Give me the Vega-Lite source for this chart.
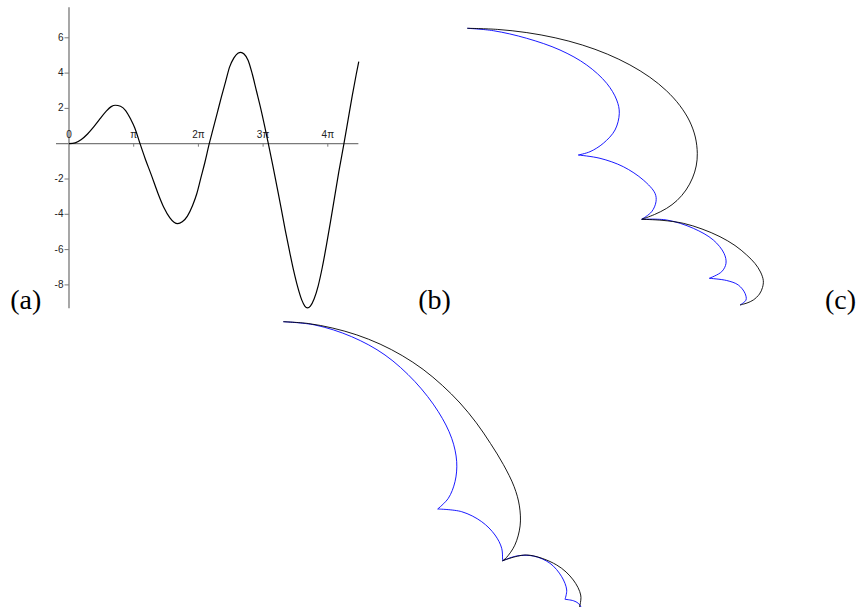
{
  "$schema": "https://vega.github.io/schema/vega-lite/v6.json",
  "width": 860,
  "height": 607,
  "padding": 0,
  "autosize": {"type": "none"},
  "background": "white",
  "config": {"view": {"stroke": null}},
  "datasets": {
    "fA": [
      {"t":0,"v":0},{"t":0.3,"v":0.05},{"t":0.6,"v":0.24},{"t":0.9,"v":0.55},{"t":1.2,"v":0.95},{"t":1.5,"v":1.4},{"t":1.8,"v":1.83},{"t":2.05,"v":2.1},{"t":2.25,"v":2.18},{"t":2.5,"v":2.12},{"t":2.75,"v":1.88},{"t":3.0,"v":1.38},{"t":3.2,"v":0.88},{"t":3.45,"v":0},
      {"t":3.7,"v":-0.85},{"t":4.0,"v":-1.78},{"t":4.3,"v":-2.75},{"t":4.6,"v":-3.6},{"t":4.9,"v":-4.2},{"t":5.1,"v":-4.45},{"t":5.28,"v":-4.53},{"t":5.5,"v":-4.42},{"t":5.75,"v":-4.1},{"t":6.0,"v":-3.5},{"t":6.2,"v":-2.85},{"t":6.4,"v":-1.95},{"t":6.6,"v":-1.05},{"t":6.81,"v":0},
      {"t":7.0,"v":0.85},{"t":7.2,"v":1.75},{"t":7.4,"v":2.65},{"t":7.6,"v":3.5},{"t":7.8,"v":4.35},{"t":8.0,"v":4.85},{"t":8.2,"v":5.13},{"t":8.34,"v":5.18},{"t":8.5,"v":5.08},{"t":8.7,"v":4.72},{"t":8.9,"v":3.95},{"t":9.1,"v":3.0},{"t":9.3,"v":2.05},{"t":9.5,"v":1.0},{"t":9.68,"v":0},
      {"t":9.9,"v":-1.25},{"t":10.1,"v":-2.45},{"t":10.3,"v":-3.65},{"t":10.5,"v":-4.9},{"t":10.7,"v":-6.05},{"t":10.9,"v":-7.15},{"t":11.1,"v":-8.1},{"t":11.3,"v":-8.85},{"t":11.45,"v":-9.2},{"t":11.58,"v":-9.3},{"t":11.72,"v":-9.2},{"t":11.9,"v":-8.8},{"t":12.1,"v":-8.05},{"t":12.3,"v":-7.0},{"t":12.5,"v":-5.75},{"t":12.7,"v":-4.4},{"t":12.9,"v":-3.0},{"t":13.1,"v":-1.6},{"t":13.35,"v":0},
      {"t":13.55,"v":1.35},{"t":13.75,"v":2.7},{"t":13.95,"v":3.95},{"t":14.07,"v":4.65}
    ],
    "yticks": [
      {"v":-8,"label":"-8"},{"v":-6,"label":"-6"},{"v":-4,"label":"-4"},{"v":-2,"label":"-2"},{"v":2,"label":"2"},{"v":4,"label":"4"},{"v":6,"label":"6"}
    ],
    "xticks": [
      {"t":0,"label":"0","tick":false},
      {"t":3.14159,"label":"π","tick":true},
      {"t":6.28319,"label":"2π","tick":true},
      {"t":9.42478,"label":"3π","tick":true},
      {"t":12.56637,"label":"4π","tick":true}
    ],
    "shapes": [
      {"seg":"b1","kind":"inner","i":1,"x":0,"y":0},{"seg":"b1","kind":"inner","i":2,"x":0.26,"y":-0.024},{"seg":"b1","kind":"inner","i":3,"x":0.594,"y":-0.1},{"seg":"b1","kind":"inner","i":4,"x":0.927,"y":-0.217},{"seg":"b1","kind":"inner","i":5,"x":1.194,"y":-0.367},{"seg":"b1","kind":"inner","i":6,"x":1.394,"y":-0.55},{"seg":"b1","kind":"inner","i":7,"x":1.494,"y":-0.717},{"seg":"b1","kind":"inner","i":8,"x":1.52,"y":-0.85},{"seg":"b1","kind":"inner","i":9,"x":1.477,"y":-1.017},{"seg":"b1","kind":"inner","i":10,"x":1.36,"y":-1.15},{"seg":"b1","kind":"inner","i":11,"x":1.227,"y":-1.234},{"seg":"b1","kind":"inner","i":12,"x":1.11,"y":-1.267},
      {"seg":"b2","kind":"inner","i":1,"x":1.11,"y":-1.267},{"seg":"b2","kind":"inner","i":2,"x":1.327,"y":-1.3},{"seg":"b2","kind":"inner","i":3,"x":1.56,"y":-1.384},{"seg":"b2","kind":"inner","i":4,"x":1.76,"y":-1.517},{"seg":"b2","kind":"inner","i":5,"x":1.877,"y":-1.65},{"seg":"b2","kind":"inner","i":6,"x":1.887,"y":-1.734},{"seg":"b2","kind":"inner","i":7,"x":1.844,"y":-1.834},{"seg":"b2","kind":"inner","i":8,"x":1.744,"y":-1.91},
      {"seg":"b3","kind":"inner","i":1,"x":1.744,"y":-1.91},{"seg":"b3","kind":"inner","i":2,"x":1.994,"y":-1.917},{"seg":"b3","kind":"inner","i":3,"x":2.26,"y":-2.0},{"seg":"b3","kind":"inner","i":4,"x":2.46,"y":-2.117},{"seg":"b3","kind":"inner","i":5,"x":2.567,"y":-2.25},{"seg":"b3","kind":"inner","i":6,"x":2.587,"y":-2.35},{"seg":"b3","kind":"inner","i":7,"x":2.544,"y":-2.434},{"seg":"b3","kind":"inner","i":8,"x":2.42,"y":-2.5},
      {"seg":"b4","kind":"inner","i":1,"x":2.42,"y":-2.5},{"seg":"b4","kind":"inner","i":2,"x":2.594,"y":-2.522},{"seg":"b4","kind":"inner","i":3,"x":2.71,"y":-2.567},{"seg":"b4","kind":"inner","i":4,"x":2.777,"y":-2.65},{"seg":"b4","kind":"inner","i":5,"x":2.787,"y":-2.717},{"seg":"b4","kind":"inner","i":6,"x":2.727,"y":-2.767},
      {"seg":"bk1","kind":"outer","i":1,"x":0,"y":0},{"seg":"bk1","kind":"outer","i":2,"x":0.3,"y":-0.011},{"seg":"bk1","kind":"outer","i":3,"x":0.595,"y":-0.043},{"seg":"bk1","kind":"outer","i":4,"x":0.879,"y":-0.095},{"seg":"bk1","kind":"outer","i":5,"x":1.15,"y":-0.167},{"seg":"bk1","kind":"outer","i":6,"x":1.4,"y":-0.258},{"seg":"bk1","kind":"outer","i":7,"x":1.626,"y":-0.366},{"seg":"bk1","kind":"outer","i":8,"x":1.825,"y":-0.489},{"seg":"bk1","kind":"outer","i":9,"x":1.992,"y":-0.625},{"seg":"bk1","kind":"outer","i":10,"x":2.125,"y":-0.772},{"seg":"bk1","kind":"outer","i":11,"x":2.222,"y":-0.927},{"seg":"bk1","kind":"outer","i":12,"x":2.28,"y":-1.087},{"seg":"bk1","kind":"outer","i":13,"x":2.3,"y":-1.25},{"seg":"bk1","kind":"outer","i":14,"x":2.289,"y":-1.377},{"seg":"bk1","kind":"outer","i":15,"x":2.252,"y":-1.497},{"seg":"bk1","kind":"outer","i":16,"x":2.187,"y":-1.617},{"seg":"bk1","kind":"outer","i":17,"x":2.097,"y":-1.722},{"seg":"bk1","kind":"outer","i":18,"x":1.994,"y":-1.8},{"seg":"bk1","kind":"outer","i":19,"x":1.872,"y":-1.862},{"seg":"bk1","kind":"outer","i":20,"x":1.744,"y":-1.91},
      {"seg":"bk2","kind":"outer","i":1,"x":1.744,"y":-1.91},{"seg":"bk2","kind":"outer","i":2,"x":1.947,"y":-1.92},{"seg":"bk2","kind":"outer","i":3,"x":2.16,"y":-1.95},{"seg":"bk2","kind":"outer","i":4,"x":2.347,"y":-2.007},{"seg":"bk2","kind":"outer","i":5,"x":2.527,"y":-2.084},{"seg":"bk2","kind":"outer","i":6,"x":2.677,"y":-2.172},{"seg":"bk2","kind":"outer","i":7,"x":2.794,"y":-2.267},{"seg":"bk2","kind":"outer","i":8,"x":2.877,"y":-2.352},{"seg":"bk2","kind":"outer","i":9,"x":2.932,"y":-2.437},{"seg":"bk2","kind":"outer","i":10,"x":2.96,"y":-2.522},{"seg":"bk2","kind":"outer","i":11,"x":2.952,"y":-2.592},{"seg":"bk2","kind":"outer","i":12,"x":2.922,"y":-2.657},{"seg":"bk2","kind":"outer","i":13,"x":2.86,"y":-2.717},{"seg":"bk2","kind":"outer","i":14,"x":2.797,"y":-2.747},{"seg":"bk2","kind":"outer","i":15,"x":2.727,"y":-2.767},
      {"seg":"c1","kind":"inner","i":1,"x":-1.84,"y":-2.934},{"seg":"c1","kind":"inner","i":2,"x":-1.523,"y":-2.967},{"seg":"c1","kind":"inner","i":3,"x":-1.156,"y":-3.084},{"seg":"c1","kind":"inner","i":4,"x":-0.823,"y":-3.267},{"seg":"c1","kind":"inner","i":5,"x":-0.523,"y":-3.534},{"seg":"c1","kind":"inner","i":6,"x":-0.29,"y":-3.834},{"seg":"c1","kind":"inner","i":7,"x":-0.156,"y":-4.1},{"seg":"c1","kind":"inner","i":8,"x":-0.106,"y":-4.334},{"seg":"c1","kind":"inner","i":9,"x":-0.123,"y":-4.534},{"seg":"c1","kind":"inner","i":10,"x":-0.19,"y":-4.7},{"seg":"c1","kind":"inner","i":11,"x":-0.296,"y":-4.807},
      {"seg":"c2","kind":"inner","i":1,"x":-0.296,"y":-4.807},{"seg":"c2","kind":"inner","i":2,"x":-0.056,"y":-4.834},{"seg":"c2","kind":"inner","i":3,"x":0.144,"y":-4.934},{"seg":"c2","kind":"inner","i":4,"x":0.277,"y":-5.067},{"seg":"c2","kind":"inner","i":5,"x":0.344,"y":-5.2},{"seg":"c2","kind":"inner","i":6,"x":0.352,"y":-5.325},
      {"seg":"c3","kind":"inner","i":1,"x":0.352,"y":-5.325},{"seg":"c3","kind":"inner","i":2,"x":0.494,"y":-5.277},{"seg":"c3","kind":"inner","i":3,"x":0.66,"y":-5.277},{"seg":"c3","kind":"inner","i":4,"x":0.827,"y":-5.35},{"seg":"c3","kind":"inner","i":5,"x":0.944,"y":-5.484},{"seg":"c3","kind":"inner","i":6,"x":0.994,"y":-5.617},{"seg":"c3","kind":"inner","i":7,"x":0.977,"y":-5.71},
      {"seg":"c4","kind":"inner","i":1,"x":0.977,"y":-5.71},{"seg":"c4","kind":"inner","i":2,"x":1.06,"y":-5.724},{"seg":"c4","kind":"inner","i":3,"x":1.11,"y":-5.75},{"seg":"c4","kind":"inner","i":4,"x":1.137,"y":-5.787},{"seg":"c4","kind":"inner","i":5,"x":1.157,"y":-5.84},
      {"seg":"ck1","kind":"outer","i":1,"x":-1.84,"y":-2.934},{"seg":"ck1","kind":"outer","i":2,"x":-1.591,"y":-2.952},{"seg":"ck1","kind":"outer","i":3,"x":-1.345,"y":-2.998},{"seg":"ck1","kind":"outer","i":4,"x":-1.105,"y":-3.066},{"seg":"ck1","kind":"outer","i":5,"x":-0.872,"y":-3.158},{"seg":"ck1","kind":"outer","i":6,"x":-0.651,"y":-3.273},{"seg":"ck1","kind":"outer","i":7,"x":-0.442,"y":-3.411},{"seg":"ck1","kind":"outer","i":8,"x":-0.25,"y":-3.571},{"seg":"ck1","kind":"outer","i":9,"x":-0.073,"y":-3.747},{"seg":"ck1","kind":"outer","i":10,"x":0.09,"y":-3.945},{"seg":"ck1","kind":"outer","i":11,"x":0.232,"y":-4.152},{"seg":"ck1","kind":"outer","i":12,"x":0.361,"y":-4.363},{"seg":"ck1","kind":"outer","i":13,"x":0.468,"y":-4.583},{"seg":"ck1","kind":"outer","i":14,"x":0.521,"y":-4.776},{"seg":"ck1","kind":"outer","i":15,"x":0.528,"y":-4.976},{"seg":"ck1","kind":"outer","i":16,"x":0.475,"y":-5.169},{"seg":"ck1","kind":"outer","i":17,"x":0.391,"y":-5.293},{"seg":"ck1","kind":"outer","i":18,"x":0.352,"y":-5.325},
      {"seg":"ck2","kind":"outer","i":1,"x":0.352,"y":-5.325},{"seg":"ck2","kind":"outer","i":2,"x":0.594,"y":-5.267},{"seg":"ck2","kind":"outer","i":3,"x":0.894,"y":-5.367},{"seg":"ck2","kind":"outer","i":4,"x":1.06,"y":-5.517},{"seg":"ck2","kind":"outer","i":5,"x":1.134,"y":-5.667},{"seg":"ck2","kind":"outer","i":6,"x":1.127,"y":-5.767},{"seg":"ck2","kind":"outer","i":7,"x":1.107,"y":-5.84}
    ],
    "panelLabels": [
      {"label":"(a)","x":-4.416,"y":-2.802},
      {"label":"(b)","x":-0.328,"y":-2.802},
      {"label":"(c)","x":3.732,"y":-2.802}
    ]
  },
  "layer": [
    {
      "layer": [
        {
          "data": {"values": [{}]},
          "mark": {"type": "rule", "color": "#7a7a7a", "strokeWidth": 1.2},
          "encoding": {
            "x": {"datum": -0.631, "type": "quantitative", "scale": {"domain": [-3.35, 38.407], "nice": false, "zero": false}, "axis": null},
            "x2": {"datum": 14.05},
            "y": {"datum": 0, "type": "quantitative", "scale": {"domain": [-26.25, 8.142], "nice": false, "zero": false}, "axis": null}
          }
        },
        {
          "data": {"values": [{}]},
          "mark": {"type": "rule", "color": "#8a8a8a", "strokeWidth": 1.5},
          "encoding": {
            "x": {"datum": 0, "type": "quantitative", "scale": {"domain": [-3.35, 38.407], "nice": false, "zero": false}, "axis": null},
            "y": {"datum": -9.33, "type": "quantitative", "scale": {"domain": [-26.25, 8.142], "nice": false, "zero": false}, "axis": null},
            "y2": {"datum": 7.73}
          }
        },
        {
          "data": {"name": "yticks"},
          "mark": {"type": "rule", "color": "#7a7a7a", "strokeWidth": 1, "x2Offset": -4.5},
          "encoding": {
            "x": {"datum": 0, "type": "quantitative", "scale": {"domain": [-3.35, 38.407], "nice": false, "zero": false}, "axis": null},
            "x2": {"datum": 0},
            "y": {"field": "v", "type": "quantitative", "scale": {"domain": [-26.25, 8.142], "nice": false, "zero": false}, "axis": null}
          }
        },
        {
          "data": {"name": "yticks"},
          "mark": {"type": "text", "align": "right", "baseline": "middle", "dx": -5.5, "font": "Liberation Sans", "fontSize": 10, "color": "#222"},
          "encoding": {
            "x": {"datum": 0, "type": "quantitative", "scale": {"domain": [-3.35, 38.407], "nice": false, "zero": false}, "axis": null},
            "y": {"field": "v", "type": "quantitative", "scale": {"domain": [-26.25, 8.142], "nice": false, "zero": false}, "axis": null},
            "text": {"field": "label"}
          }
        },
        {
          "data": {"name": "xticks"},
          "transform": [{"filter": "datum.tick"}],
          "mark": {"type": "rule", "color": "#7a7a7a", "strokeWidth": 1, "y2Offset": 3},
          "encoding": {
            "x": {"field": "t", "type": "quantitative", "scale": {"domain": [-3.35, 38.407], "nice": false, "zero": false}, "axis": null},
            "y": {"datum": 0, "type": "quantitative", "scale": {"domain": [-26.25, 8.142], "nice": false, "zero": false}, "axis": null},
            "y2": {"datum": 0}
          }
        },
        {
          "data": {"name": "xticks"},
          "mark": {"type": "text", "align": "center", "baseline": "alphabetic", "dy": -5.5, "font": "Liberation Sans", "fontSize": 10, "color": "#222"},
          "encoding": {
            "x": {"field": "t", "type": "quantitative", "scale": {"domain": [-3.35, 38.407], "nice": false, "zero": false}, "axis": null},
            "y": {"datum": 0, "type": "quantitative", "scale": {"domain": [-26.25, 8.142], "nice": false, "zero": false}, "axis": null},
            "text": {"field": "label"}
          }
        },
        {
          "data": {"name": "fA"},
          "mark": {"type": "line", "interpolate": "monotone", "color": "#000", "strokeWidth": 1.2},
          "encoding": {
            "x": {"field": "t", "type": "quantitative", "scale": {"domain": [-3.35, 38.407], "nice": false, "zero": false}, "axis": null},
            "y": {"field": "v", "type": "quantitative", "scale": {"domain": [-26.25, 8.142], "nice": false, "zero": false}, "axis": null},
            "order": {"field": "t"}
          }
        }
      ]
    },
    {
      "layer": [
        {
          "data": {"name": "shapes"},
          "mark": {"type": "line", "interpolate": "catmull-rom", "strokeWidth": 0.9, "clip": true},
          "encoding": {
            "x": {"field": "x", "type": "quantitative", "scale": {"domain": [-4.673, 3.927], "nice": false, "zero": false}, "axis": null},
            "y": {"field": "y", "type": "quantitative", "scale": {"domain": [-5.787, 0.283], "nice": false, "zero": false}, "axis": null},
            "detail": {"field": "seg"},
            "order": {"field": "i"},
            "color": {"field": "kind", "type": "nominal", "scale": {"domain": ["inner", "outer"], "range": ["#0000ff", "#000000"]}, "legend": null}
          }
        },
        {
          "data": {"name": "panelLabels"},
          "mark": {"type": "text", "align": "center", "baseline": "alphabetic", "font": "Liberation Serif", "fontSize": 28, "color": "#000"},
          "encoding": {
            "x": {"field": "x", "type": "quantitative", "scale": {"domain": [-4.673, 3.927], "nice": false, "zero": false}, "axis": null},
            "y": {"field": "y", "type": "quantitative", "scale": {"domain": [-5.787, 0.283], "nice": false, "zero": false}, "axis": null},
            "text": {"field": "label"}
          }
        }
      ]
    }
  ],
  "resolve": {"scale": {"x": "independent", "y": "independent"}}
}
